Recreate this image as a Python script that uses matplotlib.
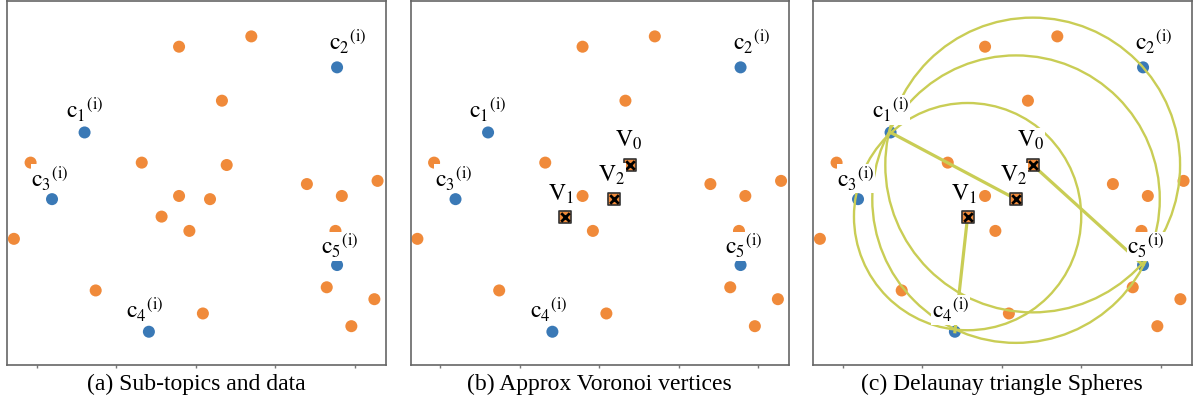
import matplotlib.pyplot as plt
import numpy as np

plt.rcParams['mathtext.fontset'] = 'stix'
plt.rcParams['font.family'] = ['Liberation Serif', 'DejaVu Serif']

# data points (orange)
data_x = [-0.21, 0.70, 0.33, -2.08, -0.68, 0.39, 1.40, 2.29, 1.84, -0.21,
          0.18, -0.43, -0.08, -2.29, 1.76, -1.26, 1.65, 2.25, 0.09, 1.96]
data_y = [1.72, 1.85, 1.04, 0.26, 0.26, 0.23, -0.01, 0.03, -0.16, -0.16,
          -0.20, -0.42, -0.60, -0.70, -0.60, -1.35, -1.31, -1.46, -1.64, -1.80]

# sub-topic centroids (blue)
cent_x = [-1.40, 1.78, -1.81, -0.59, 1.78]
cent_y = [0.64, 1.46, -0.20, -1.87, -1.03]
cent_names = ['1', '2', '3', '4', '5']

# approx voronoi vertices (taken from the data points)
vert_x = [0.39, -0.43, 0.18]
vert_y = [0.23, -0.42, -0.20]
vert_names = ['0', '1', '2']
# delaunay triangles (centroid indices) for each vertex, and the radius drawn
triangles = [(0, 1, 4), (0, 2, 3), (0, 3, 4)]
radius_to = [4, 3, 0]

captions = ['(a) Sub-topics and data', '(b) Approx Voronoi vertices',
            '(c) Delaunay triangle Spheres']

orange = '#f08a3a'
blue = '#3a79b6'
green = '#c9cd55'

cent_off = [(0, 14), (11, 17), (-2, 12), (-4, 13), (3, 10)]
vert_off = [(-2, 18), (-4, 16), (-2, 17)]

fig = plt.figure(figsize=(11.94, 4.07), dpi=100)
W, H = 1194, 407
lefts = [7, 410.5, 813]

for k in range(3):
    ax = fig.add_axes([lefts[k] / W, 42 / H, 378.5 / W, 364.5 / H])
    ax.scatter(data_x, data_y, s=75, color=orange, edgecolors='none', zorder=2)
    ax.scatter(cent_x, cent_y, s=75, color=blue, edgecolors='none', zorder=2)
    for i in range(5):
        ax.annotate(r'$\mathrm{c}_{%s}{}^{(\mathrm{i})}$' % cent_names[i],
                    (cent_x[i], cent_y[i]), xytext=cent_off[i],
                    textcoords='offset pixels', ha='center', va='baseline',
                    fontsize=17, zorder=6,
                    bbox=dict(facecolor='white', edgecolor='none', pad=0.5))
    if k >= 1:
        ax.scatter(vert_x, vert_y, s=65, marker='s', color=orange,
                   edgecolors='#333333', linewidths=1.2, zorder=4)
        ax.scatter(vert_x, vert_y, s=38, marker='x', color='black',
                   linewidths=2, zorder=5)
        for i in range(3):
            ax.annotate(r'$\mathrm{V}_{%s}$' % vert_names[i],
                        (vert_x[i], vert_y[i]), xytext=vert_off[i],
                        textcoords='offset pixels', ha='center', va='baseline',
                        fontsize=17, zorder=6,
                        bbox=dict(facecolor='white', edgecolor='none', pad=0.5))
    if k == 2:
        for i in range(3):
            tri = triangles[i]
            r = np.mean([np.hypot(cent_x[j] - vert_x[i], cent_y[j] - vert_y[i])
                         for j in tri])
            ax.add_patch(plt.Circle((vert_x[i], vert_y[i]), r, fill=False,
                                    color=green, lw=1.7, zorder=3))
            j = radius_to[i]
            ax.plot([vert_x[i], cent_x[j]], [vert_y[i], cent_y[j]],
                    color=green, lw=2.3, zorder=3)

    ax.set_xlim(-2.377, 2.39)
    ax.set_ylim(-2.289, 2.302)
    ax.set_xticks([-2, -1, 0, 1, 2])
    ax.set_yticks([])
    ax.tick_params(axis='x', length=2.5, width=1, color='#777777',
                   labelbottom=False)
    for sp in ax.spines.values():
        sp.set_color('#666666')
        sp.set_linewidth(1.2)
    fig.text((lefts[k] + 189) / W, 23 / H, captions[k], ha='center',
             va='center', fontsize=17)

fig.savefig('out.png', dpi=100)
